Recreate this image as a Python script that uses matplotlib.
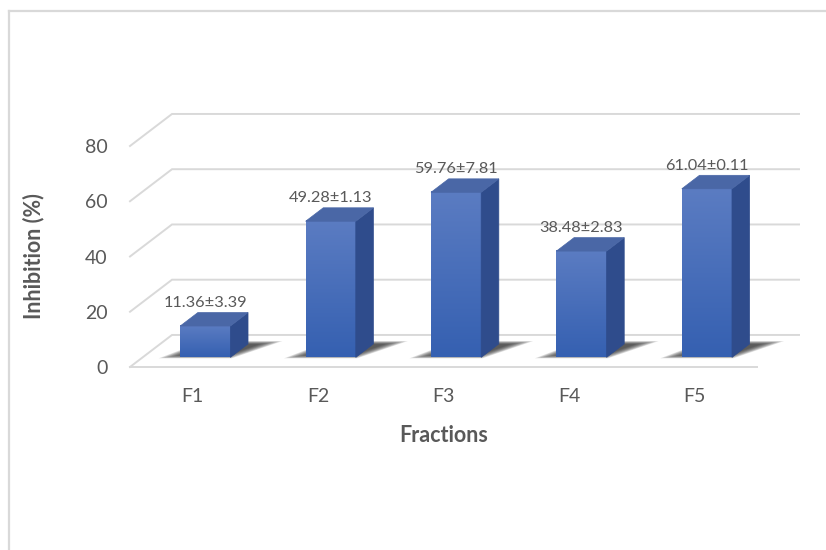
import numpy as np
import matplotlib
matplotlib.use("Agg")
import matplotlib.pyplot as plt
from matplotlib.colors import LinearSegmentedColormap
from matplotlib.patches import Polygon
from matplotlib.lines import Line2D

# inhibition per fraction (mean ± sd)
fractions = ["F1", "F2", "F3", "F4", "F5"]
means = [11.36, 49.28, 59.76, 38.48, 61.04]
sds = [3.39, 1.13, 7.81, 2.83, 0.11]
y_ticks = [0, 20, 40, 60, 80]

plt.rcParams['font.family'] = ['Lato', 'DejaVu Sans']
TEXT = '#595959'
GRID = '#d9d9d9'

# oblique projection of the depth axis (in data units)
ddx, ddy = 0.335, 11.6
f0, bd = 0.3, 0.42      # bar front depth, bar thickness
width = 0.4


def proj(x, y, d):
    return (x + d * ddx, y + d * ddy)


fig = plt.figure(figsize=(8.26, 5.5), dpi=100)
ax = fig.add_axes([130 / 826, (550 - 367) / 550, 627 / 826, 221 / 550])
ax.set_xlim(-0.5, 4.5)
ax.set_ylim(0, 80)
for s in ax.spines.values():
    s.set_visible(False)

# outer frame
fig.add_artist(Line2D([8.5 / 826, 1], [1 - 10.5 / 550] * 2, transform=fig.transFigure,
                      color=GRID, lw=1.6))
fig.add_artist(Line2D([8.5 / 826] * 2, [0, 1 - 10.5 / 550], transform=fig.transFigure,
                      color=GRID, lw=1.6))

# side wall / back wall gridlines
xl, xr = -0.5, 4.5
for v in y_ticks:
    pts = [proj(xl, v, 0), proj(xl, v, 1), proj(xr, v, 1)]
    ax.plot(*zip(*pts), color=GRID, lw=1.4, clip_on=False, zorder=1,
            solid_joinstyle='miter')
ax.plot([xl, xr], [0, 0], color=GRID, lw=1.4, clip_on=False, zorder=1)

front_cmap = LinearSegmentedColormap.from_list('front', ['#3560b1', '#5b7cc2'])
grad = np.linspace(0, 1, 128).reshape(-1, 1)

for i, (m, sd) in enumerate(zip(means, sds)):
    x0, x1 = i - width / 2, i + width / 2

    # soft floor shadow
    sh = np.array([proj(x0 - 0.12, 0, f0), proj(x1, 0, f0),
                   proj(x1 + 0.2, 0, f0 + bd + 0.06), proj(x0 + 0.04, 0, f0 + bd + 0.06)])
    c = sh.mean(axis=0)
    for s in np.linspace(1.12, 0.72, 9):
        ax.add_patch(Polygon(c + s * (sh - c), closed=True, facecolor='#262626',
                             edgecolor='none', alpha=0.14, zorder=2, clip_on=False))

    # front face with vertical gradient
    fx0, fy0 = proj(x0, 0, f0)
    fx1, fy1 = proj(x1, m, f0)
    ax.imshow(grad, cmap=front_cmap, origin='lower', aspect='auto',
              extent=[fx0, fx1, fy0, fy1], zorder=4, clip_on=False)

    # side face
    side = [proj(x1, 0, f0), proj(x1, 0, f0 + bd), proj(x1, m, f0 + bd), proj(x1, m, f0)]
    ax.add_patch(Polygon(side, closed=True, facecolor='#2f4c8c', edgecolor='#2f4c8c',
                         lw=0.5, zorder=4, clip_on=False))

    # top face
    top = [proj(x0, m, f0), proj(x1, m, f0), proj(x1, m, f0 + bd), proj(x0, m, f0 + bd)]
    ax.add_patch(Polygon(top, closed=True, facecolor='#4a67a6', edgecolor='#4a67a6',
                         lw=0.5, zorder=5, clip_on=False))

    lx, ly = proj(i, m, f0 + bd)
    ax.text(i + f0 * ddx, ly + 1.0, f"{m:.2f}±{sd:.2f}", ha='center', va='bottom',
            fontsize=11.8, color=TEXT, zorder=6)

ax.set_xlim(-0.5, 4.5)
ax.set_ylim(0, 80)

ax.set_xticks(range(len(fractions)))
ax.set_xticklabels(fractions)
ax.set_yticks(y_ticks)
ax.tick_params(length=0, labelsize=14, labelcolor=TEXT)
ax.tick_params(axis='y', pad=16)
ax.tick_params(axis='x', pad=15)

ax.set_xlabel("Fractions", fontsize=15.5, fontweight='bold', color=TEXT)
ax.xaxis.set_label_coords(0.5, (367 - 435) / 221)
ax.xaxis.label.set_va('center')
ax.set_ylabel("Inhibition (%)", fontsize=15.5, fontweight='bold', color=TEXT)
ax.yaxis.set_label_coords((34 - 130) / 627, 0.5)
ax.yaxis.label.set_va('center')

fig.savefig("out.png", dpi=100)
